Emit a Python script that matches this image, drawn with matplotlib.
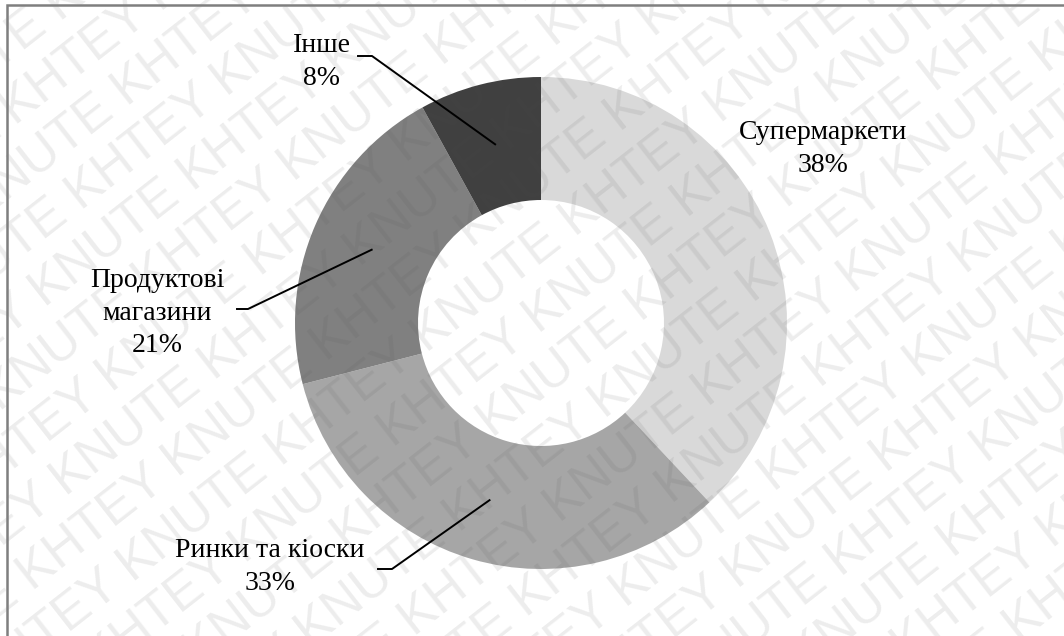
import numpy as np
import matplotlib.pyplot as plt
from matplotlib.patches import Rectangle

# частки каналів збуту, %
labels = ["Супермаркети", "Ринки та кіоски", "Продуктові\nмагазини", "Інше"]
shares = [38, 33, 21, 8]
colors = ["#d9d9d9", "#a6a6a6", "#808080", "#404040"]

# підписи: центр блоку тексту (px, від верхнього краю) і початок виноски
label_pos = [(823, 149), (270, 567), (157, 313), (322, 62)]
elbow = [None, (378, 392, 569), (237, 248, 309), (358, 372, 56)]

W, H = 1064, 636
cx, cy = 541, H - 323
r_out, r_in = 246, 123

fig = plt.figure(figsize=(W / 100, H / 100), dpi=100)
ax = fig.add_axes([0, 0, 1, 1])
ax.set_xlim(0, W)
ax.set_ylim(0, H)
ax.axis("off")

wedges, _ = ax.pie(shares, colors=colors, startangle=90, counterclock=False,
                   radius=r_out, center=(cx, cy),
                   wedgeprops=dict(width=r_out - r_in, linewidth=0))
ax.set_xlim(0, W)
ax.set_ylim(0, H)
ax.set_aspect("equal")

# водяний знак
ang = 38
u = np.array([np.cos(np.radians(ang)), np.sin(np.radians(ang))])
n = np.array([np.sin(np.radians(ang)), -np.cos(np.radians(ang))])
row = "KNUTE KHTEY " * 10
for k in range(-14, 22):
    p = np.array([0, H]) + k * 54 * n - 1000 * u + (k % 2) * 100 * u
    ax.text(p[0], p[1], row, rotation=ang, rotation_mode="anchor",
            ha="left", va="baseline", fontsize=37, family="Liberation Sans",
            color="#505050", alpha=0.1, zorder=3, clip_on=True)

font = dict(family="Liberation Serif", fontsize=20, color="black")
for i, (lab, val) in enumerate(zip(labels, shares)):
    tx, ty = label_pos[i]
    ax.text(tx, H - ty, f"{lab}\n{val}%", ha="center", va="center",
            multialignment="center", linespacing=1.42, zorder=5, **font)
    if elbow[i] is None:
        continue
    w = wedges[i]
    mid = np.radians((w.theta1 + w.theta2) / 2)
    rm = (r_out + r_in) / 2
    ex, ey = cx + rm * np.cos(mid), cy + rm * np.sin(mid)
    x0, x1, yy = elbow[i]
    ax.plot([x0, x1, ex], [H - yy, H - yy, ey], color="black", lw=1.4,
            zorder=6)

fig.add_artist(Rectangle((7 / W, -0.1), 1.2, 1.1 - 5 / H, transform=fig.transFigure,
                         fill=False, edgecolor="#7f7f7f", lw=1.8, zorder=10))

fig.savefig("out.png", dpi=100, facecolor="white")
